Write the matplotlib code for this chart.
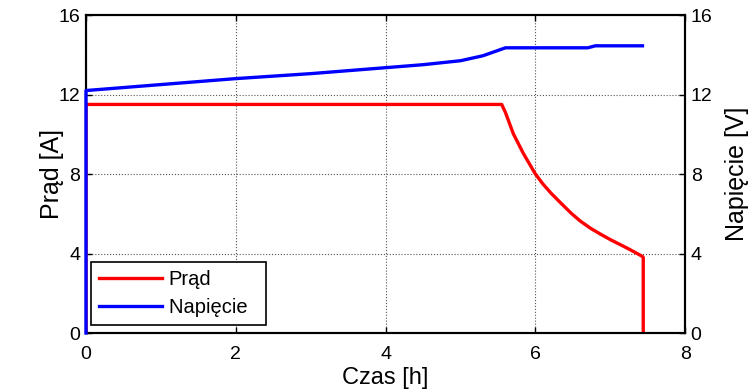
import matplotlib
matplotlib.use('Agg')
import matplotlib.pyplot as plt

plt.rcParams['font.family'] = ['Liberation Sans', 'DejaVu Sans']

# prad ladowania [A]
t_prad = [0.0, 0.0, 5.55, 5.6, 5.705, 5.84, 6.0, 6.1, 6.21, 6.35, 6.48, 6.6, 6.74,
          6.88, 7.01, 7.2, 7.32, 7.43, 7.44, 7.44]
prad = [0.0, 11.5, 11.5, 11.1, 10.03, 9.03, 8.0, 7.5, 7.03, 6.5, 6.02, 5.63, 5.26,
        4.95, 4.68, 4.32, 4.08, 3.85, 3.8, 0.0]

# napiecie [V]
t_nap = [0.0, 0.0, 0.5, 1.0, 2.0, 3.0, 4.0, 4.5, 5.0, 5.3, 5.6, 6.0, 6.7, 6.8, 7.43]
napiecie = [0.0, 12.2, 12.35, 12.5, 12.8, 13.05, 13.35, 13.5, 13.7, 13.95, 14.35, 14.35, 14.35, 14.45, 14.45]

fig = plt.figure(figsize=(7.49, 3.92), dpi=100)
ax = fig.add_axes([0.1148, 0.1505, 0.80, 0.8112])
ax2 = ax.twinx()

l1, = ax.plot(t_prad, prad, color='#ff0000', lw=2.4, label='Prąd')
l2, = ax2.plot(t_nap, napiecie, color='#0000ff', lw=2.4, label='Napięcie',
               clip_on=False, zorder=5)

for a in (ax, ax2):
    a.set_xlim(0, 8)
    a.set_ylim(0, 16)
    a.set_yticks([0, 4, 8, 12, 16])
    a.tick_params(direction='in', length=4, width=1, labelsize=14, pad=4)
    for s in a.spines.values():
        s.set_linewidth(1.5)

ax.set_xticks([0, 2, 4, 6, 8])
ax.tick_params(axis='x', top=True, pad=9)
ax.grid(True, color='#555555', linestyle=':', linewidth=0.8)
ax.set_xlabel('Czas [h]', fontsize=17, labelpad=3)
ax.set_ylabel('Prąd [A]', fontsize=18, labelpad=-4)
ax2.set_ylabel('Napięcie [V]', fontsize=18, labelpad=9)

leg = ax2.legend([l1, l2], ['Prąd', 'Napięcie  '], loc='lower left',
                 bbox_to_anchor=(0.0, 0.01), fontsize=14.5, fancybox=False,
                 edgecolor='black', framealpha=1, handlelength=3.1,
                 handletextpad=0.35, borderpad=0.4, labelspacing=0.45,
                 borderaxespad=0.25)
leg.get_frame().set_linewidth(1.2)
leg.set_zorder(10)

fig.savefig('out.png', dpi=100)
